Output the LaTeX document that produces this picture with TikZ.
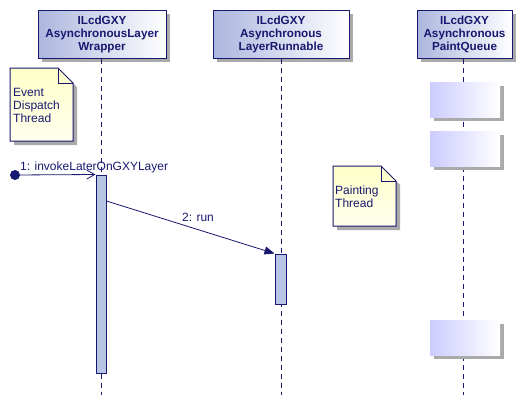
\documentclass[tikz,border=0pt]{standalone}
\usepackage{fontspec}
\setmainfont{Liberation Sans}
\usetikzlibrary{arrows.meta,shadows}
\definecolor{navy}{RGB}{24,24,112}
\definecolor{hdr}{RGB}{172,182,222}
\definecolor{actc}{RGB}{184,196,228}
\definecolor{noteY}{RGB}{255,255,200}
\definecolor{qcol}{RGB}{204,204,255}
\definecolor{shd}{RGB}{170,170,170}
\tikzset{
  hdrbox/.style={draw=navy, line width=1pt, left color=hdr, right color=white,
    minimum height=48pt, inner sep=0pt, align=center, text=navy,
    font=\fontsize{11.7}{13}\selectfont\bfseries,
    drop shadow={shadow xshift=4pt, shadow yshift=-4pt, fill=shd, opacity=1}},
  lifeline/.style={draw=navy, line width=0.8pt, dash pattern=on 5pt off 4pt},
  actbox/.style={draw=navy, line width=1pt, fill=actc, minimum width=10pt, inner sep=0pt},
  lbl/.style={text=navy, font=\fontsize{12}{13}\selectfont, inner sep=0pt},
  notetext/.style={text=navy, font=\fontsize{12}{13}\selectfont, inner sep=0pt, align=left, anchor=west},
  msg/.style={draw=navy, line width=0.8pt},
  noteline/.style={draw=navy, line width=1pt},
  qshade/.style={left color=qcol, right color=white, shading angle=-60},
}
\begin{document}
\begin{tikzpicture}[x=1pt,y=-1pt]
\useasboundingbox[fill=white] (0,0) rectangle (521,407);

% headers
\node[hdrbox, minimum width=128pt] (h1) at (102,34) {ILcdGXY\\AsynchronousLayer\\Wrapper};
\node[hdrbox, minimum width=136pt] (h2) at (281,34) {ILcdGXY\\Asynchronous\\LayerRunnable};
\node[hdrbox, minimum width=95pt] (h3) at (464.5,34) {ILcdGXY\\Asynchronous\\PaintQueue};

% lifeline ends
\coordinate (e1) at (101,395);
\coordinate (e2) at (281,395);
\coordinate (e3) at (463,395);
\draw[lifeline] (h1.south -| e1) -- (e1);
\draw[lifeline] (h2.south -| e2) -- (e2);
\draw[lifeline] (h3.south -| e3) -- (e3);

% paint queue boxes
\foreach \yy/\nm in {82/qa,131/qb,320/qc}{
  \fill[shd] (434,\yy+4) rectangle (504,\yy+39);
  \shade[left color=qcol, right color=white] (430,\yy) rectangle (500,\yy+35);
}

% note 1
\fill[shd] (14,72) -- (62,72) -- (77,87) -- (77,145) -- (14,145) -- cycle;
\shade[top color=noteY, bottom color=noteY!30!white] (10,68) -- (58,68) -- (73,83) -- (73,141) -- (10,141) -- cycle;
\draw[noteline] (10,68) -- (58,68) -- (73,83) -- (73,141) -- (10,141) -- cycle;
\draw[noteline] (58,68) -- (58,83) -- (73,83);
\node[notetext] (n1) at (13,105) {Event\\Dispatch\\Thread};

% note 2
\fill[shd] (337,170) -- (385,170) -- (400,185) -- (400,230) -- (337,230) -- cycle;
\shade[top color=noteY, bottom color=noteY!30!white] (333,166) -- (381,166) -- (396,181) -- (396,226) -- (333,226) -- cycle;
\draw[noteline] (333,166) -- (381,166) -- (396,181) -- (396,226) -- (333,226) -- cycle;
\draw[noteline] (381,166) -- (381,181) -- (396,181);
\node[notetext] (n2) at (335,197) {Painting\\Thread};

% activations
\node[actbox, minimum width=10pt, minimum height=198pt] (a1) at (101,274) {};
\node[actbox, minimum width=11pt, minimum height=50pt] (a2) at (280.5,279) {};

% message 1
\node[circle, fill=navy, minimum size=10pt, inner sep=0pt] (st) at (15,175) {};
\draw[msg, -{Straight Barb[length=8pt,width=9pt]}] (st.center) -- (a1.north west);
\node[lbl, anchor=base west] (m1) at (20,170) {1: invokeLaterOnGXYLayer};

% message 2
\coordinate (m2s) at (a1.east |- 0,201);
\draw[msg, -{Triangle[length=10pt,width=8pt]}] (m2s) -- (a2.north west);
\node[lbl] (m2) at (198,217) {2: run};
\end{tikzpicture}
\end{document}
